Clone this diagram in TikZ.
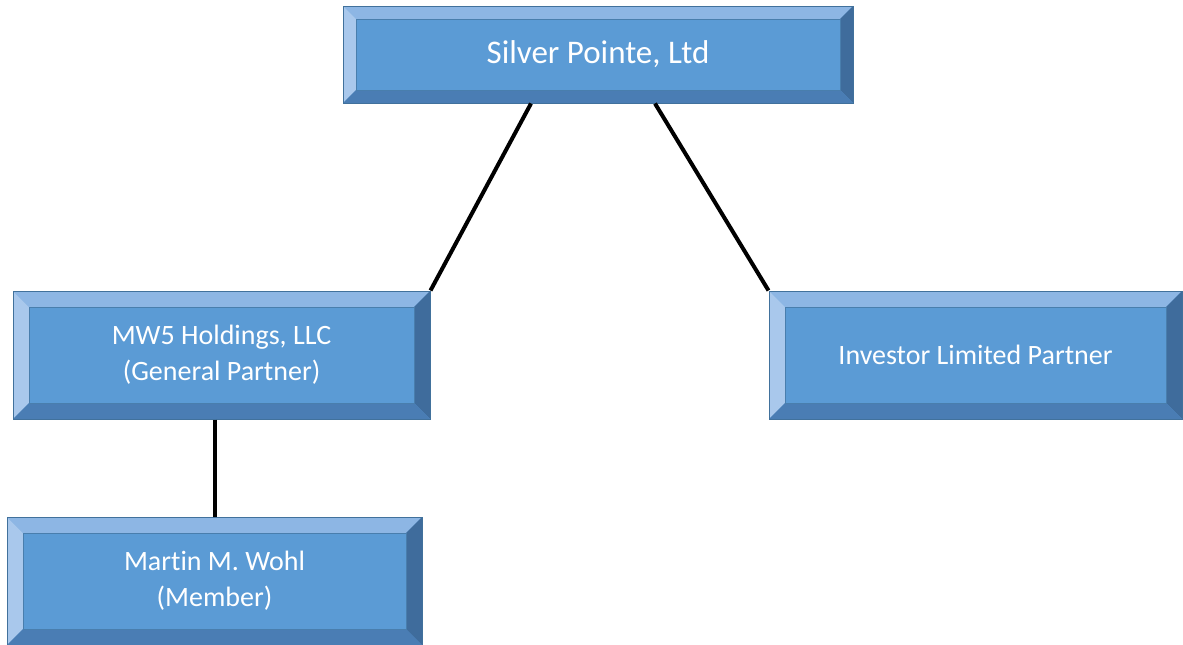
\documentclass[tikz,border=0pt]{standalone}
\usepackage{fontspec}
\setmainfont[Ligatures={NoCommon}]{Carlito}
\definecolor{face}{HTML}{5B9BD5}
\definecolor{bvtop}{HTML}{8DB6E4}
\definecolor{bvleft}{HTML}{A9C8EC}
\definecolor{bvright}{HTML}{3F6C9C}
\definecolor{bvbot}{HTML}{4A7DB4}
\definecolor{bord}{HTML}{41719C}
\tikzset{
  bw/.code={\def\bw{#1}},
  bevbox/.style={rectangle, draw=bord, line width=1pt, fill=face, text=white,
    align=center, inner sep=0pt,
    path picture={
      \coordinate (nw) at (path picture bounding box.north west);
      \coordinate (ne) at (path picture bounding box.north east);
      \coordinate (sw) at (path picture bounding box.south west);
      \coordinate (se) at (path picture bounding box.south east);
      \coordinate (inw) at ([xshift=\bw,yshift=-\bw]nw);
      \coordinate (ine) at ([xshift=-\bw,yshift=-\bw]ne);
      \coordinate (isw) at ([xshift=\bw,yshift=\bw]sw);
      \coordinate (ise) at ([xshift=-\bw,yshift=\bw]se);
      \fill[bvtop] (nw) -- (ne) -- (ine) -- (inw) -- cycle;
      \fill[bvleft] (nw) -- (inw) -- (isw) -- (sw) -- cycle;
      \fill[bvright] (ne) -- (se) -- (ise) -- (ine) -- cycle;
      \fill[bvbot] (sw) -- (isw) -- (ise) -- (se) -- cycle;
      \draw[bord!70!face, line width=0.6pt] (inw) rectangle (ise);
    }},
  link/.style={line width=4pt, black}
}
\begin{document}
\begin{tikzpicture}[x=1pt,y=-1pt]
\useasboundingbox[fill=white] (0,0) rectangle (1183,645);
\node[bevbox, bw=13pt, minimum width=510pt, minimum height=97pt,
  font=\fontsize{33}{38}\selectfont] (top) at (598,54.5) {\raisebox{-2pt}{Silver Pointe, Ltd}};
\node[bevbox, bw=16pt, minimum width=417pt, minimum height=128pt,
  font=\fontsize{28}{36}\selectfont] (mw) at (221.5,355) {MW5 Holdings, LLC\\(General Partner)};
\node[bevbox, bw=16pt, minimum width=413pt, minimum height=128pt,
  font=\fontsize{28}{36}\selectfont] (inv) at (975.5,355) {Investor Limited Partner};
\node[bevbox, bw=16pt, minimum width=415pt, minimum height=128pt,
  font=\fontsize{28}{36}\selectfont] (mar) at (214.5,581) {Martin M. Wohl\\(Member)};
\draw[link] ([xshift=-67pt]top.south) -- (mw.north east);
\draw[link] ([xshift=57pt]top.south) -- (inv.north west);
\draw[link] (mw.south -| mar.north) -- (mar.north);
\end{tikzpicture}
\end{document}
